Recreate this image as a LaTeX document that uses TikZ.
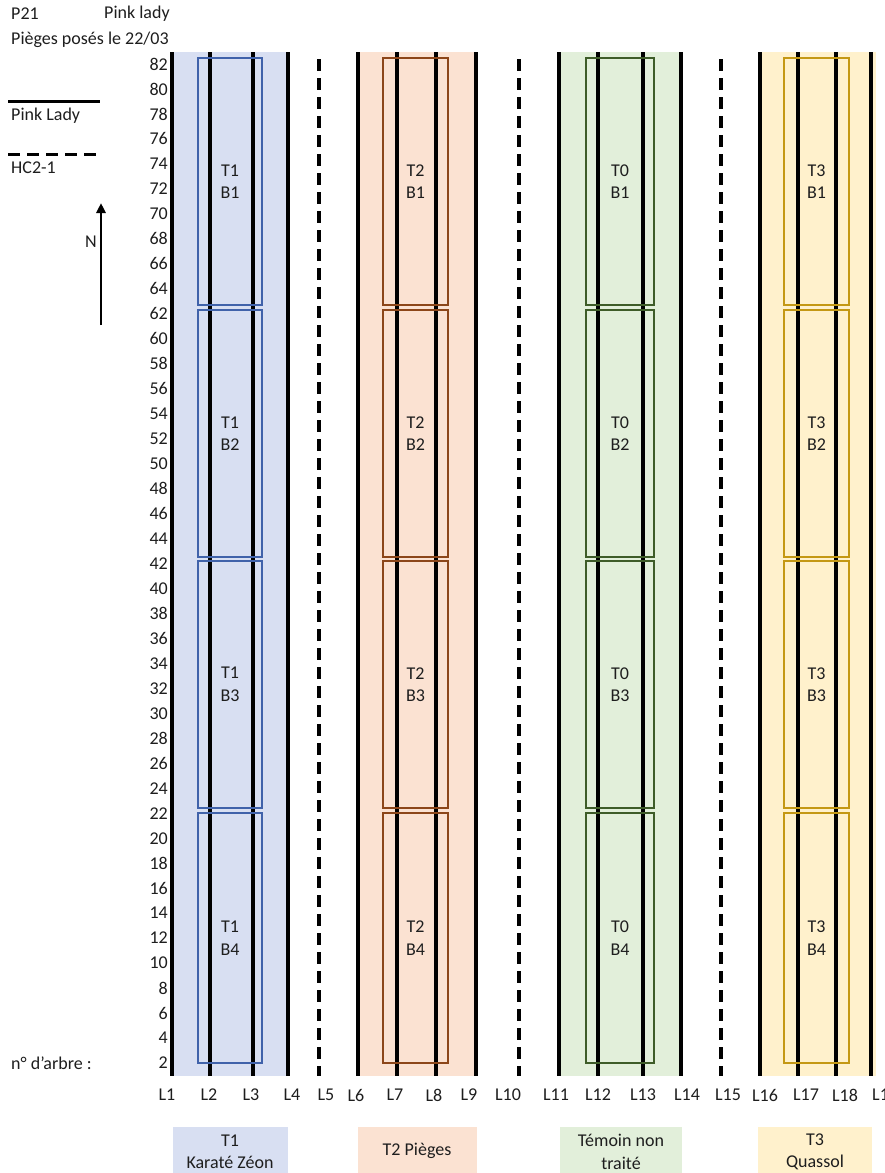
\documentclass[tikz,border=0pt]{standalone}
\usepackage{fontspec}
\setmainfont{Carlito}
\usetikzlibrary{arrows.meta}
\definecolor{bandB}{RGB}{216,223,242}
\definecolor{bandR}{RGB}{251,226,210}
\definecolor{bandG}{RGB}{226,239,218}
\definecolor{bandY}{RGB}{255,241,204}
\definecolor{boxB}{RGB}{64,98,170}
\definecolor{boxR}{RGB}{140,70,25}
\definecolor{boxG}{RGB}{62,92,40}
\definecolor{boxY}{RGB}{196,152,20}
\definecolor{txt}{RGB}{30,30,30}
\tikzset{
  rowline/.style={line width=3.2pt, black},
  dashrow/.style={line width=3.2pt, black, dash pattern=on 12pt off 7pt, dash phase=-7pt},
  blockbox/.style={line width=2.2pt, inner sep=0pt},
  lbl/.style={text=txt, inner sep=1pt},
}
\begin{document}
\begin{tikzpicture}[x=1pt,y=-1pt, font=\fontsize{18}{22.5}\selectfont]
\useasboundingbox (0,0) rectangle (884,1173);
\fill[white] (0,0) rectangle (884,1173);
% bands
\fill[bandB] (170,52) rectangle (288,1076);
\fill[bandR] (358,52) rectangle (477,1076);
\fill[bandG] (558,52) rectangle (682,1076);
\fill[bandY] (758,52) rectangle (876,1076);
% row lines
\foreach \x in {172,210,253,288,358,397,436,476,559,598,643,681,760,798,836,871}
  \draw[rowline] (\x,52) -- (\x,1076);
\foreach \x in {319,519,721}
  \draw[dashrow] (\x,52) -- (\x,1076);
% blocks
\foreach \xa/\xb/\c/\t/\k in {198/262/boxB/T1/b, 383/448/boxR/T2/r, 586/654/boxG/T0/g, 784/849/boxY/T3/y}{
  \foreach \ya/\yb/\b in {58/305/1, 310/557/2, 561/808/3, 813/1063/4}{
    \draw[blockbox, draw=\c] (\xa,\ya) rectangle (\xb,\yb);
    \node[lbl, align=center] (\k\b) at ({(\xa+\xb)/2},{(\ya+\yb)/2}) {\t\\B\b};
  }
}
% y labels
\foreach \n in {2,4,...,82}
  \node[lbl, anchor=east] (n\n) at (169,{64+(82-\n)*12.4875}) {\n};
\node[lbl, anchor=west] (arbre) at (10,1063) {n° d'arbre :};
% L labels
\foreach \x/\l in {167/L1,209/L2,251/L3,292/L4,326/L5,356/L6,395/L7,434/L8,469/L9,508/L10,556/L11,598/L12,643/L13,687/L14,728/L15,765/L16,806/L17,845/L18}
  \node[lbl] (\l) at (\x,1095) {\l};
\node[lbl, anchor=west] (L19) at (871,1095) {L19};
% header
\node[lbl, anchor=west] (p21) at (10,14) {P21};
\node[lbl, anchor=west] (pl) at (103,14) {Pink lady};
\node[lbl, anchor=west] (pieges) at (10,40) {Pièges posés le 22/03};
\draw[line width=3pt] (8,101) -- (100,101);
\node[lbl, anchor=west] (pinkl) at (10,116) {Pink Lady};
\draw[line width=3pt, dash pattern=on 12pt off 7pt] (8,154) -- (100,154);
\node[lbl, anchor=west] (hc) at (10,168) {HC2-1};
% north arrow
\coordinate (nbot) at (101,325);
\coordinate (ntop) at (101,203);
\draw[line width=2.6pt, -{Triangle[length=10pt,width=9pt]}] (nbot) -- (ntop);
\node[lbl] (N) at (91,242) {N};
% legend
\fill[bandB] (173,1127) rectangle (288,1173);
\fill[bandR] (358,1127) rectangle (477,1173);
\fill[bandG] (560,1127) rectangle (682,1173);
\fill[bandY] (758,1127) rectangle (872,1173);
\node[lbl, align=center] (leg1) at (230,1152) {T1\\Karaté Zéon};
\node[lbl, align=center] (leg2) at (417,1151) {T2 Pièges};
\node[lbl, align=center] (leg3) at (621,1152) {Témoin non\\traité};
\node[lbl, align=center] (leg4) at (815,1152) {T3\\Quassol};
\end{tikzpicture}
\end{document}
